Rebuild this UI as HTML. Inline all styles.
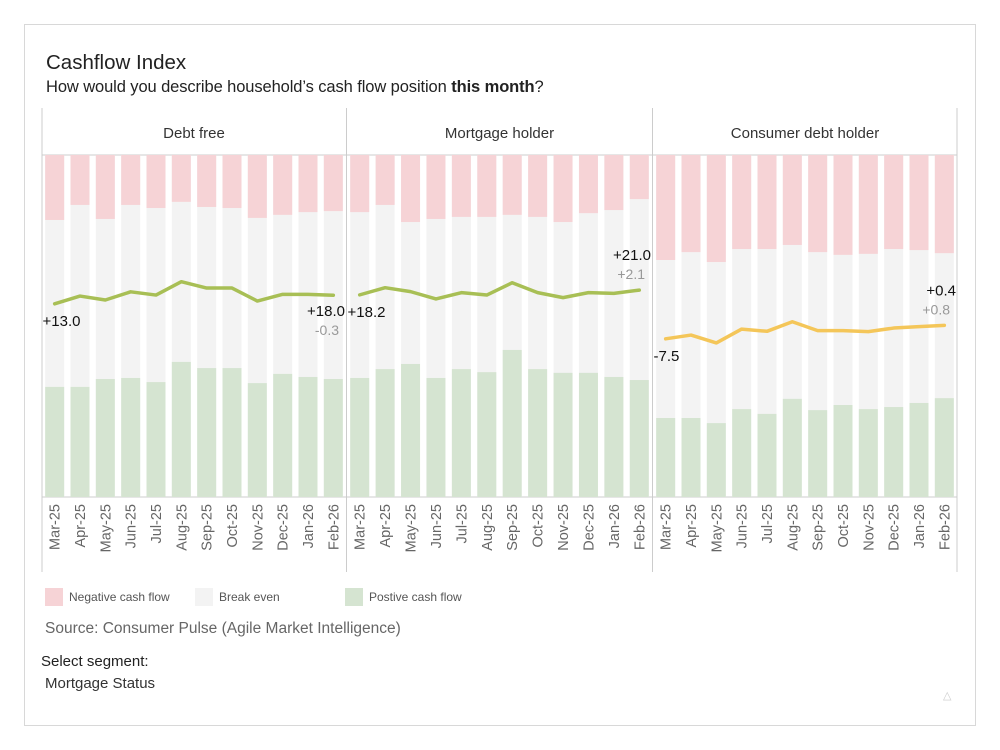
<!DOCTYPE html>
<html><head><meta charset="utf-8"><style>
body{margin:0;background:#fff;font-family:"Liberation Sans",sans-serif}
#card{position:absolute;left:24px;top:24px;width:952px;height:702px;border:1px solid #d8d8d8;box-sizing:border-box}
.t{position:absolute;white-space:nowrap;color:#222}
</style></head><body>
<div id="card"></div>
<div class="t" style="left:46px;top:51px;font-size:20.5px">Cashflow Index</div>
<div class="t" style="left:46px;top:78px;font-size:16.5px;letter-spacing:-0.1px">How would you describe household’s cash flow position <b>this month</b>?</div>
<svg id="chart" width="1000" height="750" style="position:absolute;left:0;top:0" xmlns="http://www.w3.org/2000/svg"></svg>
<div class="t" style="left:45px;top:620px;font-size:15.5px;color:#666">Source: Consumer Pulse (Agile Market Intelligence)</div>
<div class="t" style="left:41px;top:653px;font-size:15px;color:#222">Select segment:</div>
<div class="t" style="left:45px;top:675px;font-size:15px;color:#333">Mortgage Status</div>
<div class="t" style="left:943px;top:689px;font-size:11px;color:#ccc">△</div>
<script>
const months=["Mar-25","Apr-25","May-25","Jun-25","Jul-25","Aug-25","Sep-25","Oct-25","Nov-25","Dec-25","Jan-26","Feb-26"];
const segments=["Debt free","Mortgage holder","Consumer debt holder"];
const negDebtFree=[19.0,14.6,18.7,14.6,15.5,13.7,15.2,15.5,18.4,17.5,16.7,16.4];
const posDebtFree=[32.2,32.2,34.5,34.8,33.6,39.5,37.7,37.7,33.3,36.0,35.1,34.5];
const netDebtFree=[13.0,17.5,15.2,20.0,18.1,25.9,22.2,22.2,14.6,18.5,18.5,18.0];
const negMortgage=[16.7,14.6,19.6,18.7,18.1,18.1,17.5,18.1,19.6,17.0,16.1,12.9];
const posMortgage=[34.8,37.4,38.9,34.8,37.4,36.5,43.0,37.4,36.3,36.3,35.1,34.2];
const netMortgage=[18.2,22.4,20.1,15.8,19.5,18.1,25.3,19.5,16.6,19.5,19.1,21.0];
const negConsumer=[30.7,28.4,31.3,27.5,27.5,26.3,28.4,29.2,28.9,27.5,27.8,28.7];
const posConsumer=[23.1,23.1,21.6,25.7,24.3,28.7,25.4,26.9,25.7,26.3,27.5,28.9];
const netConsumer=[-7.5,-5.3,-9.9,-1.8,-3.1,2.5,-2.7,-2.7,-3.3,-1.2,-0.4,0.4];
const changeLabels=["-0.3","+2.1","+0.8"];

const NS="http://www.w3.org/2000/svg";
const svg=document.getElementById('chart');
function mk(tag,attrs,parent){const e=document.createElementNS(NS,tag);for(const k in attrs)e.setAttribute(k,attrs[k]);(parent||svg).appendChild(e);return e;}
const TOP=155,BOT=497;
const yPct=p=>TOP+(BOT-TOP)*p/100;
const yNet=v=>(TOP+BOT)/2-(BOT-TOP)/200*v;
const panels=[{x0:42,x1:346,neg:negDebtFree,pos:posDebtFree,net:netDebtFree,color:"#a8bf55"},
{x0:347,x1:652,neg:negMortgage,pos:posMortgage,net:netMortgage,color:"#a8bf55"},
{x0:653,x1:957,neg:negConsumer,pos:posConsumer,net:netConsumer,color:"#f4c659"}];
let l=mk('line',{x1:42,x2:957,y1:155,y2:155,stroke:"#ccc"});
l=mk('line',{x1:42,x2:957,y1:497,y2:497,stroke:"#ccc"});
[42,346.5,652.5,957].forEach(x=>{const v=mk('line',{x1:x,x2:x,y1:108,y2:572,stroke:"#ccc"});});
panels.forEach((p,pi)=>{
  const g=mk('g',{});
  const w=p.x1-p.x0, step=w/12, bw=19;
  const cx=i=>p.x0+step*(i+0.5);
  const h=mk('text',{x:(p.x0+p.x1)/2,y:138,'text-anchor':'middle','font-size':15,fill:'#333'},g);h.textContent=segments[pi];
  
  months.forEach((m,i)=>{
    const x=cx(i)-bw/2;
    let r=mk('rect',{x:x,y:TOP,width:bw,height:BOT-TOP,fill:'#f3f3f3'},g);
    r=mk('rect',{x:x,y:TOP,width:bw,height:yPct(p.neg[i])-TOP,fill:'#f6d3d6'},g);
    r=mk('rect',{x:x,y:yPct(100-p.pos[i]),width:bw,height:BOT-yPct(100-p.pos[i]),fill:'#d5e4d1'},g);
    const t=mk('text',{x:0,y:0,'text-anchor':'end','font-size':14.5,fill:'#666',transform:`translate(${cx(i)+5},504) rotate(-90)`},g);t.textContent=m;
    
  });
  const pl=mk('polyline',{points:p.net.map((v,i)=>cx(i)+','+yNet(v)).join(' '),fill:'none',stroke:p.color,'stroke-width':3.5,'stroke-linejoin':'round','stroke-linecap':'round'},g);
  
  const fmt=v=>(v>=0?'+':'')+v.toFixed(1);
  const first=p.net[0],last=p.net[11];
  let a=mk('text',{x:p.x0+0.5,y:yNet(first)+22,'font-size':15,fill:'#111'},g);a.textContent=fmt(first);
  
  const ly=yNet(last)+(pi==0?21:-30);
  a=mk('text',{x:p.x1-1,y:ly,'text-anchor':'end','font-size':15,fill:'#111'},g);a.textContent=fmt(last);
  
  a=mk('text',{x:p.x1-7,y:ly+19,'text-anchor':'end','font-size':14,fill:'#999'},g);a.textContent=changeLabels[pi];
  
});
const legend=[["Negative cash flow","#f6d3d6",45],["Break even","#f3f3f3",195],["Postive cash flow","#d5e4d1",345]];
legend.forEach(([txt,c,x])=>{
  const g=mk('g',{});
  mk('rect',{x:x,y:588,width:18,height:18,fill:c},g);
  const t=mk('text',{x:x+24,y:601,'font-size':12,fill:'#555'},g);t.textContent=txt;
});
</script>
</body></html>
